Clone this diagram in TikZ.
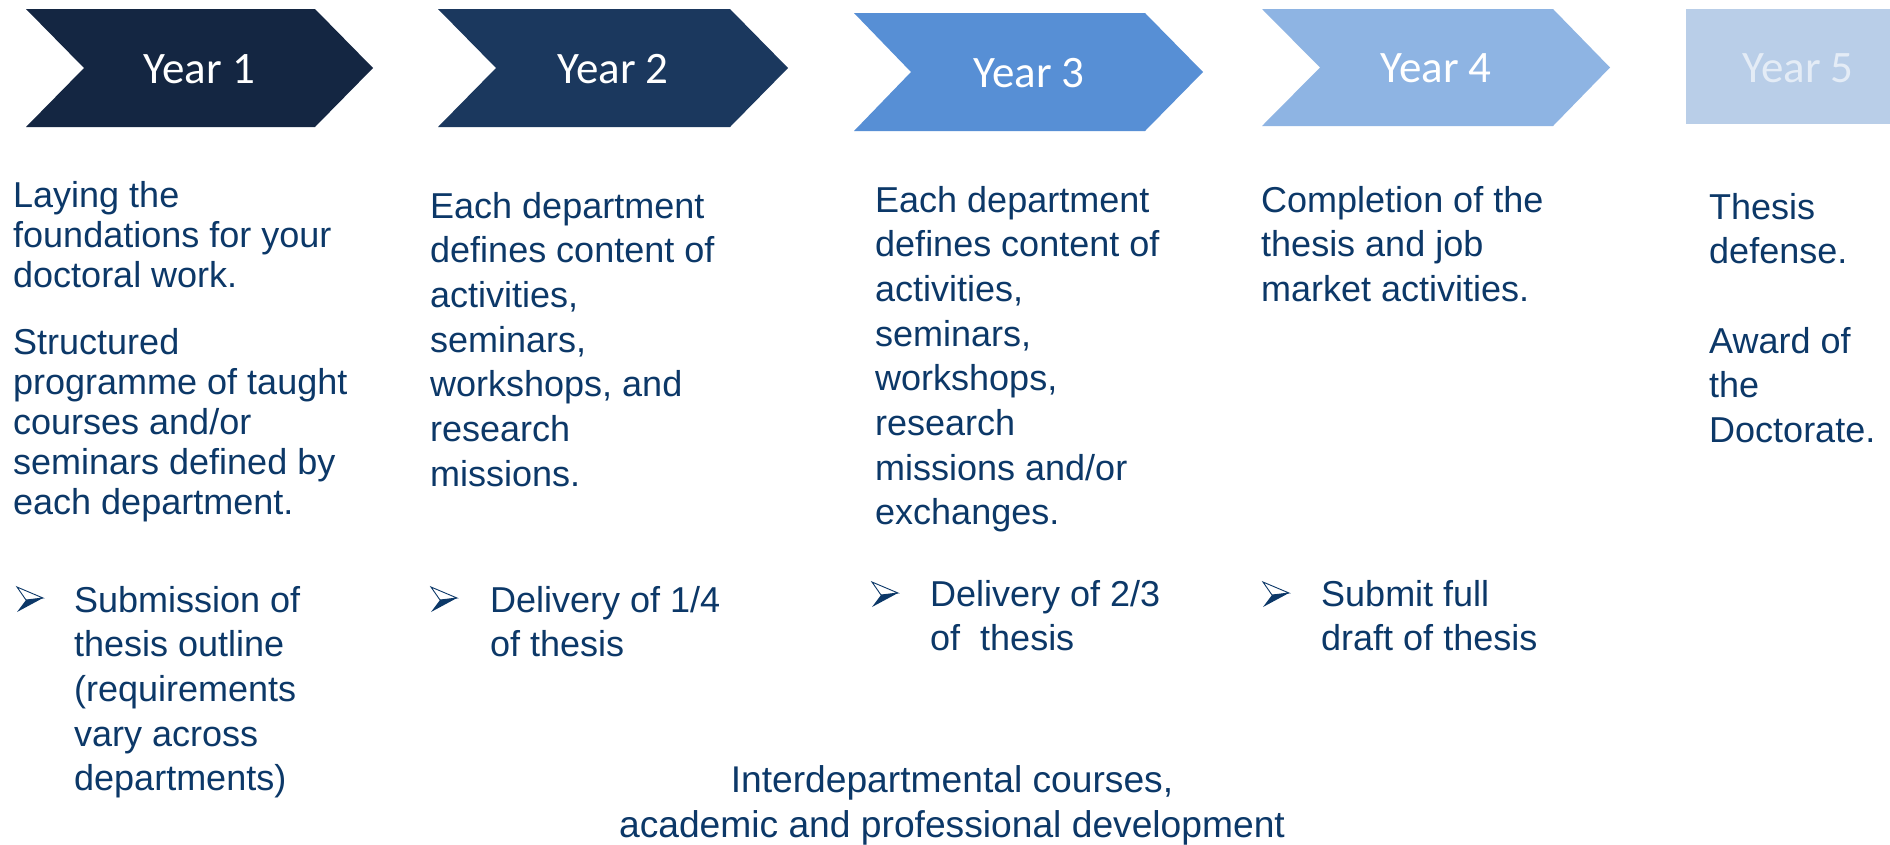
\documentclass[tikz,border=0pt]{standalone}
\usepackage{fontspec}
\setmainfont{Liberation Sans}
\newfontfamily\yearfont{Carlito}
\definecolor{txtc}{RGB}{12,56,104}
\definecolor{yone}{RGB}{20,38,66}
\definecolor{ytwo}{RGB}{27,56,94}
\definecolor{ythree}{RGB}{87,143,213}
\definecolor{yfour}{RGB}{142,180,227}
\definecolor{yfive}{RGB}{185,206,232}
\definecolor{yfivetxt}{RGB}{228,236,246}
\begin{document}
\begin{tikzpicture}[x=1pt,y=-1pt,
  yr/.style={font=\yearfont\fontsize{45}{54}\selectfont, text=white, inner sep=0pt, anchor=base},
  body/.style={font=\fontsize{36}{44.7}\selectfont, text=txtc, inner sep=0pt, anchor=base west},
  bodytight/.style={font=\fontsize{36}{40}\selectfont, text=txtc, inner sep=0pt, anchor=base west},
  bodyc/.style={font=\fontsize{37.2}{45}\selectfont, text=txtc, inner sep=0pt, anchor=base},
  bul/.pic={
    \draw[txtc, line width=0.9pt, fill=white, line join=miter] (0,0) -- (26,11) -- (9,13) -- cycle;
    \fill[txtc] (9,13) -- (26,11) -- (0,25) -- cycle;
  }]
\useasboundingbox (0,0) rectangle (1890,844);
\fill[white] (0,0) rectangle (1890,844);

% chevrons
\fill[yone]   (26,9) -- (315,9) -- (373,68) -- (315,127) -- (26,127) -- (84,68) -- cycle;
\fill[ytwo]   (438,9) -- (730,9) -- (788,68) -- (730,127) -- (438,127) -- (496,68) -- cycle;
\fill[ythree] (854,13) -- (1145,13) -- (1203,72) -- (1145,131) -- (854,131) -- (911,72) -- cycle;
\fill[yfour]  (1262,9) -- (1553,9) -- (1610,67.5) -- (1553,126) -- (1262,126) -- (1320,67.5) -- cycle;
\fill[yfive]  (1686,9) rectangle (1890,124);

\node[yr] (y1) at (199.5,83) {Year 1};
\node[yr] (y2) at (613,83) {Year 2};
\node[yr] (y3) at (1029,87) {Year 3};
\node[yr] (y4) at (1436,82.5) {Year 4};
\node[yr, text=yfivetxt] (y5) at (1798,82) {Year 5};

% column texts
\node[bodytight] (c1a) at (13,207) {\begin{tabular}[t]{@{}l@{}}Laying the\\foundations for your\\doctoral work.\end{tabular}};
\node[bodytight] (c1b) at (13,354) {\begin{tabular}[t]{@{}l@{}}Structured\\programme of taught\\courses and/or\\seminars defined by\\each department.\end{tabular}};
\node[body] (c2) at (430,218) {\begin{tabular}[t]{@{}l@{}}Each department\\defines content of\\activities,\\seminars,\\workshops, and\\research\\missions.\end{tabular}};
\node[body] (c3) at (875,212) {\begin{tabular}[t]{@{}l@{}}Each department\\defines content of\\activities,\\seminars,\\workshops,\\research\\missions and/or\\exchanges.\end{tabular}};
\node[body] (c4) at (1261,212) {\begin{tabular}[t]{@{}l@{}}Completion of the\\thesis and job\\market activities.\end{tabular}};
\node[body] (c5) at (1709,219) {\begin{tabular}[t]{@{}l@{}}Thesis\\defense.\\ \\Award of\\the\\Doctorate.\end{tabular}};

% bullets
\pic at (17,587) {bul};
\pic at (431,587) {bul};
\pic at (872,582) {bul};
\pic at (1263,582) {bul};
\node[body] (b1) at (74,612) {\begin{tabular}[t]{@{}l@{}}Submission of\\thesis outline\\(requirements\\vary across\\departments)\end{tabular}};
\node[body] (b2) at (490,612) {\begin{tabular}[t]{@{}l@{}}Delivery of 1/4\\of thesis\end{tabular}};
\node[body] (b3) at (930,606) {\begin{tabular}[t]{@{}l@{}}Delivery of 2/3\\of~~thesis\end{tabular}};
\node[body] (b4) at (1321,606) {\begin{tabular}[t]{@{}l@{}}Submit full\\draft of thesis\end{tabular}};

% bottom
\node[bodyc] (bot) at (952,792) {\begin{tabular}[t]{@{}c@{}}Interdepartmental courses,\\academic and professional development\end{tabular}};
\end{tikzpicture}
\end{document}
